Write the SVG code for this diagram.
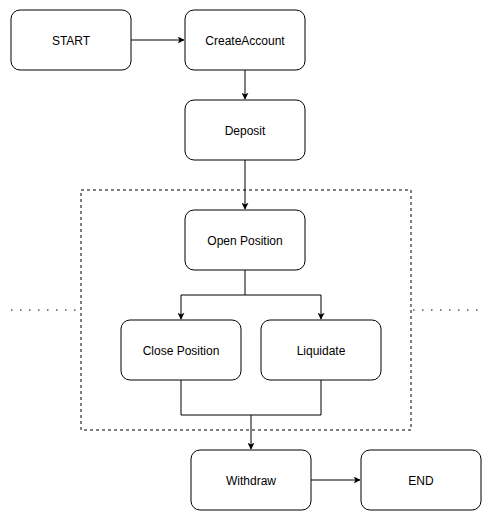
<svg xmlns="http://www.w3.org/2000/svg" width="493" height="521" viewBox="0 0 493 521">
<style>
.n rect{fill:#fff;stroke:#000;stroke-width:1}
.n text{font-family:"Liberation Sans",Arial,sans-serif;font-size:12px;fill:#000;text-anchor:middle;dominant-baseline:central}
.c path{fill:none;stroke:#000;stroke-width:1}
</style>
<defs>
<marker id="a" viewBox="0 0 10 10" refX="9" refY="5" markerWidth="7" markerHeight="7" markerUnits="userSpaceOnUse" orient="auto">
<path d="M0,0 L10,5 L0,10 L2.5,5 Z" fill="#000"/>
</marker>
</defs>
<rect x="81" y="190" width="330" height="240" fill="none" stroke="#000" stroke-dasharray="3 3"/>
<path d="M11,310 H80" stroke="#000" stroke-dasharray="1.5 7.5" fill="none"/>
<path d="M413,310 H482" stroke="#000" stroke-dasharray="1.5 7.5" fill="none"/>
<g class="c" id="connectors">
<path d="M131,40 H184" marker-end="url(#a)"/>
<path d="M245,70 V99" marker-end="url(#a)"/>
<path d="M245,160 V209" marker-end="url(#a)"/>
<path d="M245,270 V295 H181 V319" marker-end="url(#a)"/>
<path d="M245,295 H321 V319" marker-end="url(#a)"/>
<path d="M181,380 V415 H321 V380"/>
<path d="M251,415 V449" marker-end="url(#a)"/>
<path d="M311,480 H360" marker-end="url(#a)"/>
</g>
<g class="n" id="start"><rect x="11" y="10" width="120" height="60" rx="9"/><text x="71" y="41">START</text></g>
<g class="n" id="createaccount"><rect x="185" y="10" width="120" height="60" rx="9"/><text x="245" y="41">CreateAccount</text></g>
<g class="n" id="deposit"><rect x="185" y="100" width="120" height="60" rx="9"/><text x="245" y="131">Deposit</text></g>
<g class="n" id="openposition"><rect x="185" y="210" width="120" height="60" rx="9"/><text x="245" y="241">Open Position</text></g>
<g class="n" id="closeposition"><rect x="121" y="320" width="120" height="60" rx="9"/><text x="181" y="351">Close Position</text></g>
<g class="n" id="liquidate"><rect x="261" y="320" width="120" height="60" rx="9"/><text x="321" y="351">Liquidate</text></g>
<g class="n" id="withdraw"><rect x="191" y="450" width="120" height="60" rx="9"/><text x="251" y="481">Withdraw</text></g>
<g class="n" id="end"><rect x="361" y="450" width="120" height="60" rx="9"/><text x="421" y="481">END</text></g>
</svg>
